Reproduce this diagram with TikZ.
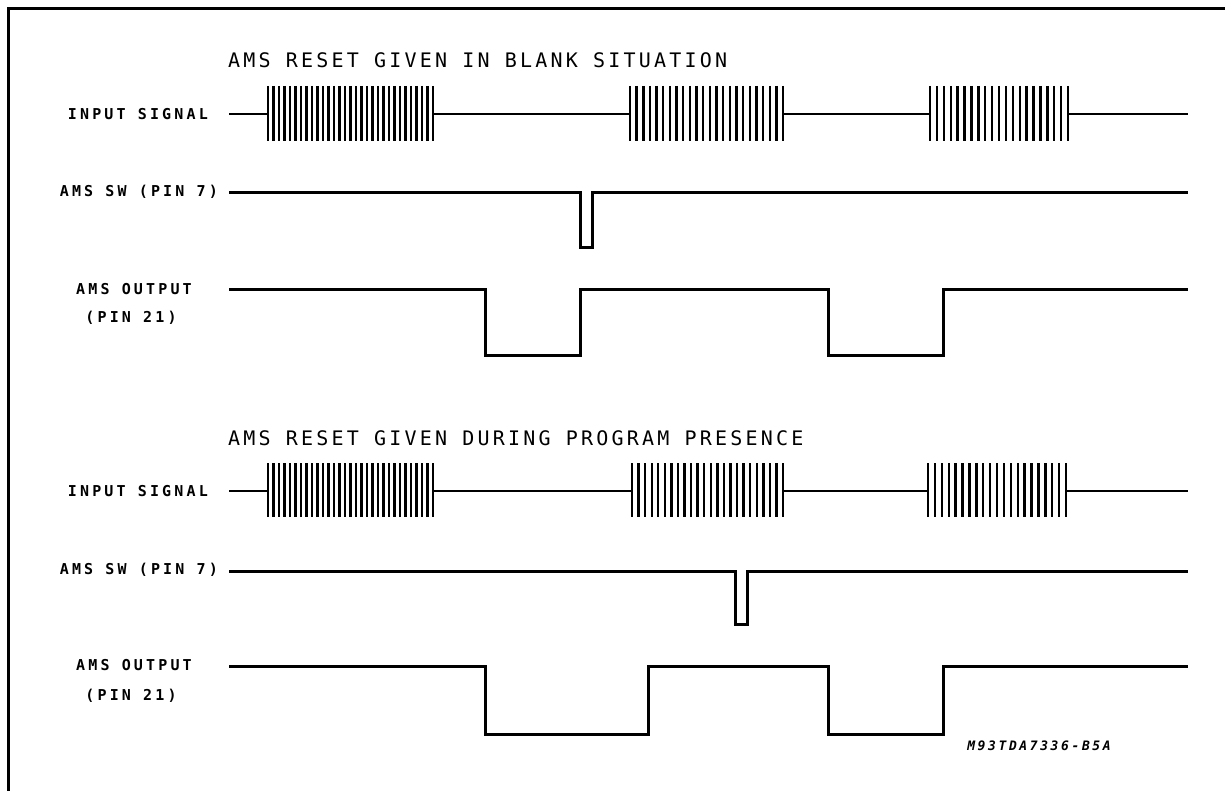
\documentclass[tikz,border=0pt]{standalone}
\usepackage{fontspec}
\newfontfamily\titlefont[LetterSpace=16]{DejaVu Sans Mono}
\newfontfamily\labelfont[LetterSpace=21]{DejaVu Sans Mono}
\newfontfamily\codefont[LetterSpace=20]{DejaVu Sans Mono}
\newcommand\burstsig[5]{% x1 x2 ytop ybot n
  \pgfmathsetmacro\bstep{(#2-#1)/(#5-1)}
  \foreach \i in {0,...,\numexpr#5-1\relax}{
    \draw[burstline] ({#1+\i*\bstep},#3) -- ({#1+\i*\bstep},#4);
  }
}
\begin{document}
\begin{tikzpicture}[x=1pt,y=-1pt,
  frame/.style={line width=3pt},
  insig/.style={line width=2pt},
  burstline/.style={line width=2.4pt},
  sig/.style={line width=3pt, line join=miter},
  ttl/.style={font=\titlefont\fontsize{20}{20}\selectfont, anchor=west, inner sep=0pt},
  lab/.style={font=\labelfont\bfseries\fontsize{15}{15}\selectfont, inner sep=0pt},
  code/.style={font=\codefont\bfseries\itshape\fontsize{13}{13}\selectfont, inner sep=0pt}]
\useasboundingbox (0,0) rectangle (1225,791);
\draw[frame] (8,791) -- (8,8.5) -- (1225,8.5);

% ---------- first diagram ----------
\node[ttl] (t1) at (228,60) {AMS RESET GIVEN IN BLANK SITUATION};
\node[lab, anchor=east] (in1) at (208,114) {INPUT SIGNAL};
\node[lab, anchor=east] (sw1) at (218,192) {AMS SW (PIN 7)};
\node[lab] (out1) at (134,289) {AMS OUTPUT};
\node[lab] (pin1) at (131,318) {(PIN 21)};

\draw[insig] (229,114) -- (268,114) (433,114) -- (630,114) (783,114) -- (930,114) (1068,114) -- (1188,114);
\burstsig{268}{433}{86}{141}{31}
\burstsig{630}{783}{86}{141}{24}
\burstsig{930}{1068}{86}{141}{21}

\draw[sig] (229,193) -- (580,193) -- (580,248) -- (592,248) -- (592,193) -- (1188,193);
\draw[sig] (229,290) -- (485,290) -- (485,355) -- (580,355) -- (580,290) -- (828,290)
  -- (828,355) -- (943,355) -- (943,290) -- (1188,290);

% ---------- second diagram ----------
\node[ttl] (t2) at (228,438) {AMS RESET GIVEN DURING PROGRAM PRESENCE};
\node[lab, anchor=east] (in2) at (208,491) {INPUT SIGNAL};
\node[lab, anchor=east] (sw2) at (218,570) {AMS SW (PIN 7)};
\node[lab] (out2) at (134,665) {AMS OUTPUT};
\node[lab] (pin2) at (131,696) {(PIN 21)};

\draw[insig] (229,491) -- (268,491) (433,491) -- (632,491) (783,491) -- (928,491) (1066,491) -- (1188,491);
\burstsig{268}{433}{463}{517}{31}
\burstsig{632}{783}{463}{517}{24}
\burstsig{928}{1066}{463}{517}{21}

\draw[sig] (229,571) -- (735,571) -- (735,624) -- (747,624) -- (747,571) -- (1188,571);
\draw[sig] (229,666) -- (485,666) -- (485,734) -- (648,734) -- (648,666) -- (828,666)
  -- (828,734) -- (943,734) -- (943,666) -- (1188,666);

\node[code] (ref) at (1039,746) {M93TDA7336-B5A};
\end{tikzpicture}
\end{document}
